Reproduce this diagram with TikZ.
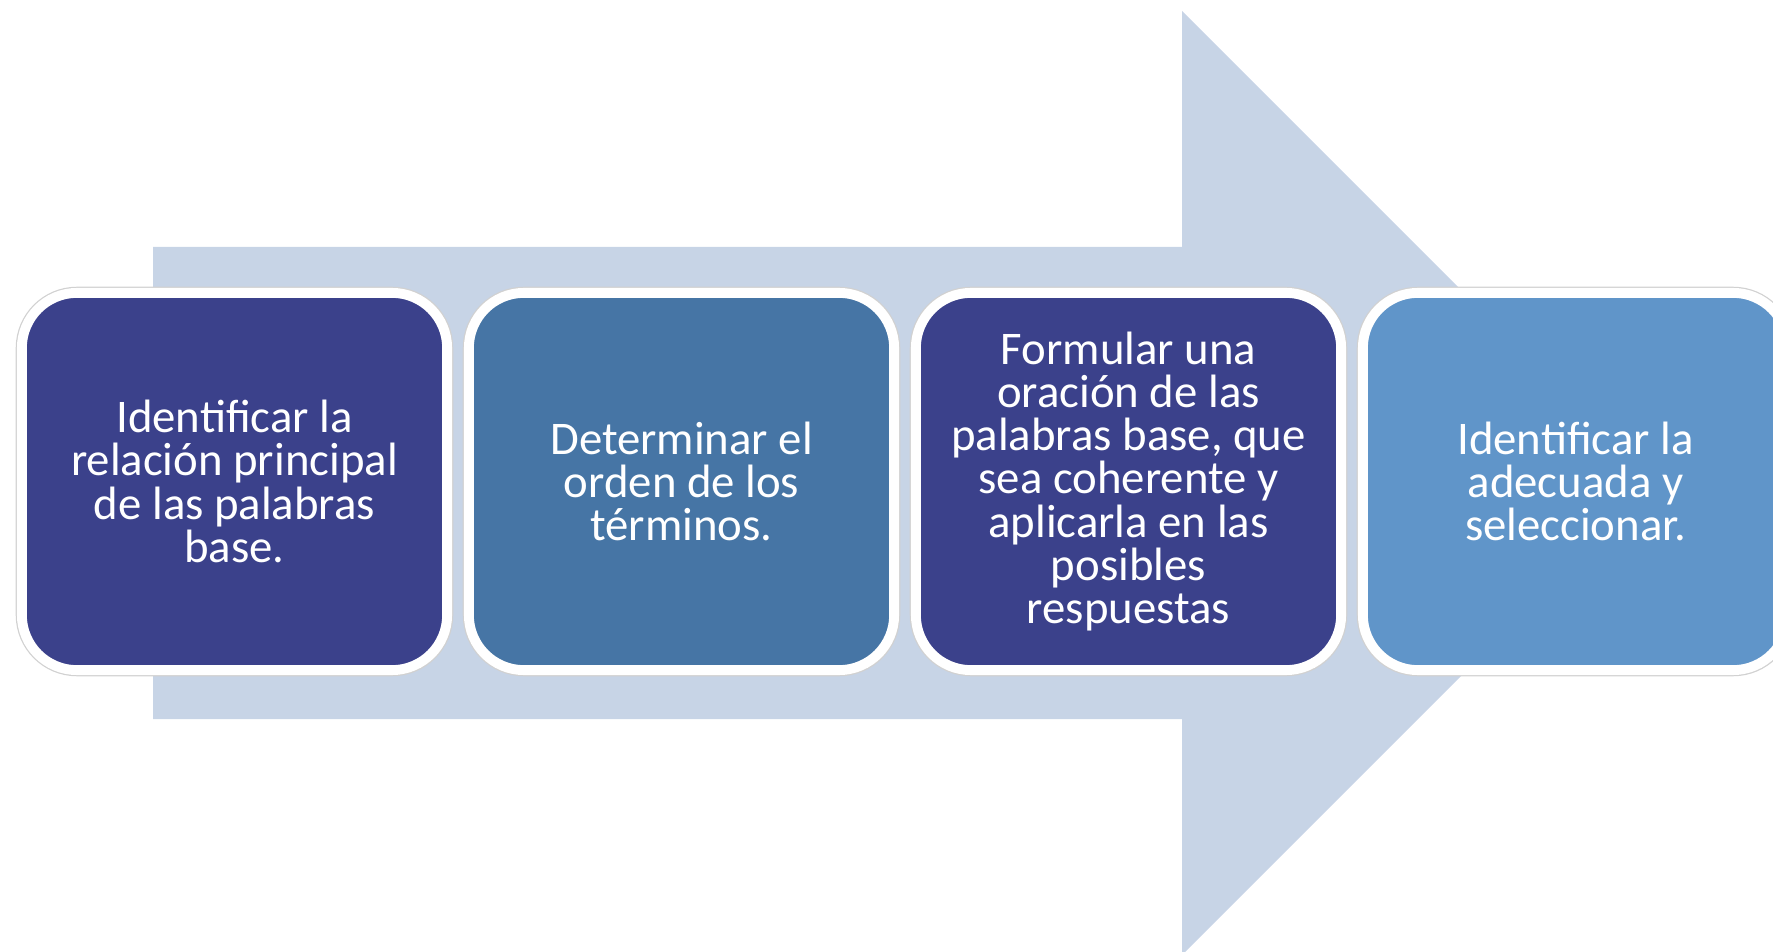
\documentclass[tikz,border=0pt]{standalone}
\usepackage{fontspec}
\setmainfont{Carlito}
\usetikzlibrary{shadows}
\definecolor{arrowc}{RGB}{199,212,230}
\definecolor{darkb}{RGB}{59,65,139}
\definecolor{midb}{RGB}{70,117,165}
\definecolor{lightb}{RGB}{96,149,201}
\begin{document}
\begin{tikzpicture}[x=0.01cm,y=-0.01cm,
 stepbox/.style={draw=white, line width=2.8pt, rounded corners=0.55cm,
   minimum width=4.25cm, minimum height=3.77cm, text=white, align=center,
   font=\fontsize{13.3}{12.3}\selectfont, inner sep=0pt,
   preaction={draw=black!18, line width=3.5pt},
   drop shadow={shadow xshift=0.6pt, shadow yshift=-1.2pt, opacity=0.2, fill=black}}]
\useasboundingbox (0,0) rectangle (1773,952);
\begin{scope}
\clip (0,0) rectangle (1773,952);
\fill[arrowc] (153,247) -- (1182,247) -- (1182,11) -- (1654,483) -- (1182,955) -- (1182,719) -- (153,719) -- cycle;
\node[stepbox, fill=darkb] (s1) at (234.5,481.5) {Identificar la\\relación principal\\de las palabras\\base.};
\node[stepbox, fill=midb] (s2) at (681.5,481.5) {Determinar el\\orden de los\\términos.};
\node[stepbox, fill=darkb] (s3) at (1128.5,481.5) {Formular una\\oración de las\\palabras base, que\\sea coherente y\\aplicarla en las\\posibles\\respuestas};
\node[stepbox, fill=lightb] (s4) at (1575.5,481.5) {Identificar la\\adecuada y\\seleccionar.};
\end{scope}
\end{tikzpicture}
\end{document}
